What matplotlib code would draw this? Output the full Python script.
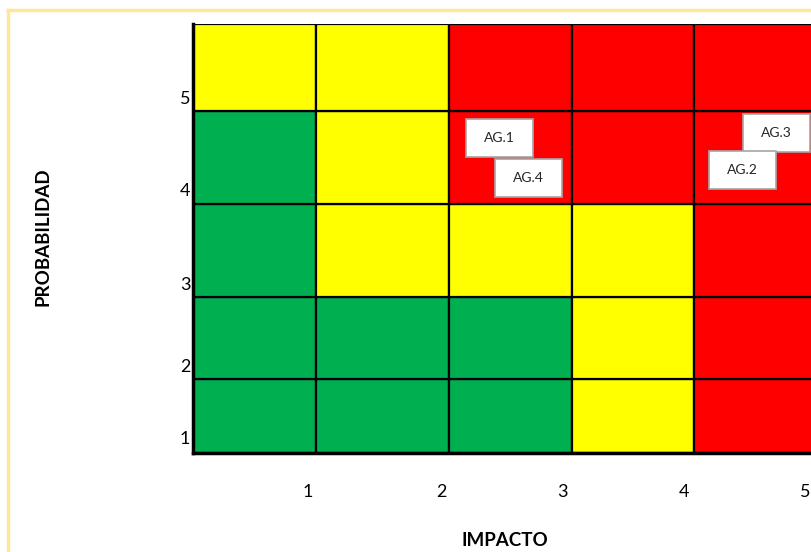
"""Risk heat map (probabilidad x impacto) with the AG.* risks placed on it."""
import matplotlib

matplotlib.use("Agg")
import matplotlib.pyplot as plt
from matplotlib.lines import Line2D
from matplotlib.patches import Rectangle

plt.rcParams["font.family"] = ["Lato", "DejaVu Sans"]

# cell edges, in chart units
col_edges = [0, 123, 256, 379, 501, 625]
row_edges = [0, 74, 156, 249, 342, 429]

# tick labels and where they sit
impact_ticks = [115, 248, 369, 491, 612]
impact_labels = ["1", "2", "3", "4", "5"]
prob_ticks = [15, 87, 170, 263, 355]
prob_labels = ["1", "2", "3", "4", "5"]

# zone of each cell, rows from probability 1 (bottom) to 5 (top)
zones = [
    ["G", "G", "G", "Y", "R"],
    ["G", "G", "G", "Y", "R"],
    ["G", "Y", "Y", "Y", "R"],
    ["G", "Y", "R", "R", "R"],
    ["Y", "Y", "R", "R", "R"],
]
zone_colors = {"G": "#00B050", "Y": "#FFFF00", "R": "#FF0000"}

# risks placed on the map
risk_names = ["AG.1", "AG.4", "AG.3", "AG.2"]
risk_x = [306, 335, 583, 549]
risk_y = [315, 275, 320, 283]

fig = plt.figure(figsize=(8.11, 5.52), dpi=100)
W, H = 811, 552

# light yellow chart frame (runs off the right and bottom edges)
frame = dict(transform=fig.transFigure, color="#FFE699", linewidth=2.5)
fig.lines.append(Line2D([7.5 / W, 7.5 / W], [0, 1 - 10 / H], **frame))
fig.lines.append(Line2D([7.5 / W, 1], [1 - 10 / H, 1 - 10 / H], **frame))

ax = fig.add_axes([193 / W, (H - 453) / H, (W - 193) / W, (453 - 24) / H])
ax.set_xlim(0, 618)
ax.set_ylim(0, 429)

for r, row in enumerate(zones):
    for c, z in enumerate(row):
        ax.add_patch(Rectangle((col_edges[c], row_edges[r]),
                               col_edges[c + 1] - col_edges[c],
                               row_edges[r + 1] - row_edges[r],
                               facecolor=zone_colors[z], edgecolor="black",
                               linewidth=1.6))

box_w, box_h = 67, 38
for name, x, y in zip(risk_names, risk_x, risk_y):
    ax.add_patch(Rectangle((x - box_w / 2, y - box_h / 2), box_w, box_h,
                           facecolor="white", edgecolor="#A6A6A6",
                           linewidth=1.2, zorder=3))
    ax.text(x, y, name, ha="center", va="center", fontsize=10,
            color="#262626", zorder=4)

for side in ("top", "right"):
    ax.spines[side].set_visible(False)
for side in ("left", "bottom"):
    ax.spines[side].set_linewidth(2.5)
    ax.spines[side].set_zorder(5)

ax.set_xticks(impact_ticks, impact_labels, fontsize=13)
ax.set_yticks(prob_ticks, prob_labels, fontsize=13)
ax.tick_params(axis="x", length=0, pad=22)
ax.tick_params(axis="y", length=0, pad=2)

fig.text(505 / W, 1 - 540 / H, "IMPACTO", ha="center", va="center",
         fontsize=13.5, fontweight="bold")
fig.text(43 / W, 1 - 237 / H, "PROBABILIDAD", ha="center", va="center",
         rotation=90, fontsize=13.5, fontweight="bold")

fig.savefig("out.png", dpi=100)
